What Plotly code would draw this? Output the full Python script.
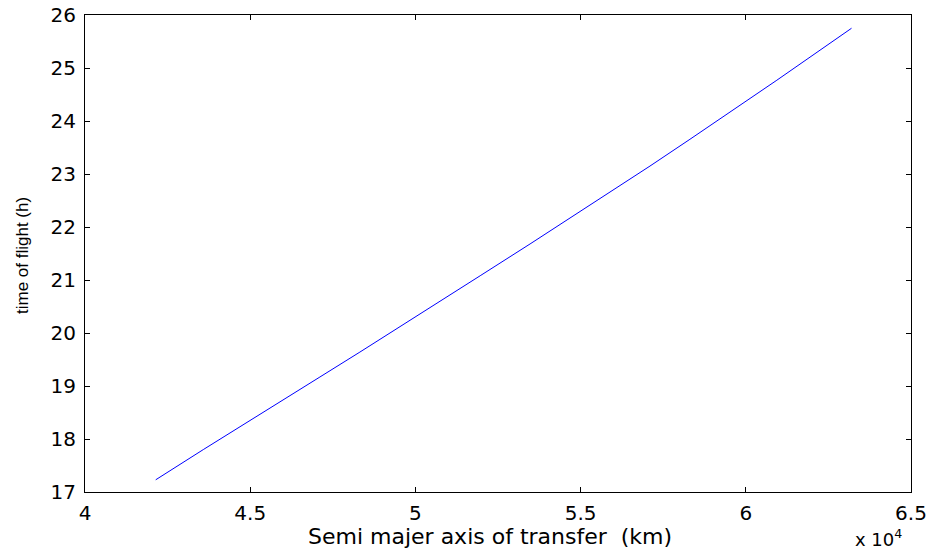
import plotly.graph_objects as go

# semi-major axis of transfer (km) and time of flight (h)
semi_major_km = [42140, 43580, 47110, 48320, 51960, 53470, 57100, 58310, 60940, 63200]
time_of_flight_h = [17.23, 17.80, 19.17, 19.64, 21.08, 21.68, 23.15, 23.655, 24.77, 25.75]

x_tick_vals = [40000, 45000, 50000, 55000, 60000, 65000]
x_tick_text = ["4", "4.5", "5", "5.5", "6", "6.5"]
y_tick_vals = [17, 18, 19, 20, 21, 22, 23, 24, 25, 26]

tick_font = dict(family="DejaVu Sans, Liberation Sans, sans-serif", size=20, color="black")
xtitle_font = dict(family="DejaVu Sans, Liberation Sans, sans-serif", size=22, color="black")
exp_font = dict(family="DejaVu Sans, Liberation Sans, sans-serif", size=18, color="black")
ytitle_font = dict(family="Liberation Sans, Arial, sans-serif", size=17, color="black")

# plot area in pixels
L, R, T, B = 85, 911, 15, 492
W, H = 930, 552

def px_x(p):
    return (p - L) / (R - L)

def px_y(p):
    return (B - p) / (B - T)

fig = go.Figure()
fig.add_trace(go.Scatter(
    x=semi_major_km, y=time_of_flight_h, mode="lines",
    line=dict(color="#0000FF", width=1), showlegend=False,
))

axis_common = dict(
    showgrid=False, zeroline=False, showline=True, linecolor="black", linewidth=1,
    mirror="ticks", ticks="inside", ticklen=5, tickcolor="black", tickwidth=1,
    tickfont=tick_font, automargin=False,
)

fig.update_layout(
    width=W, height=H,
    margin=dict(l=L, r=W - R, t=T, b=H - B, autoexpand=False),
    paper_bgcolor="white", plot_bgcolor="white",
    xaxis=dict(range=[40000, 65000], tickvals=x_tick_vals, ticktext=x_tick_text,
               ticklabelstandoff=3, **axis_common),
    yaxis=dict(range=[17, 26], tickvals=y_tick_vals, ticklabelstandoff=4, **axis_common),
    annotations=[
        dict(text="Semi majer axis of transfer  (km)", xref="paper", yref="paper",
             x=px_x(490), y=px_y(536), xanchor="center", yanchor="middle",
             showarrow=False, font=xtitle_font),
        dict(text="time of flight (h)", xref="paper", yref="paper",
             x=px_x(22), y=px_y(255), xanchor="center", yanchor="middle",
             textangle=-90, showarrow=False, font=ytitle_font),
        dict(text="x 10<sup>4</sup>", xref="paper", yref="paper",
             x=px_x(904), y=px_y(538), xanchor="right", yanchor="middle",
             showarrow=False, font=exp_font),
    ],
)

fig.write_html("out.html", config={"displayModeBar": False},
               post_script="document.body.style.margin='0';document.body.style.overflow='hidden';")
